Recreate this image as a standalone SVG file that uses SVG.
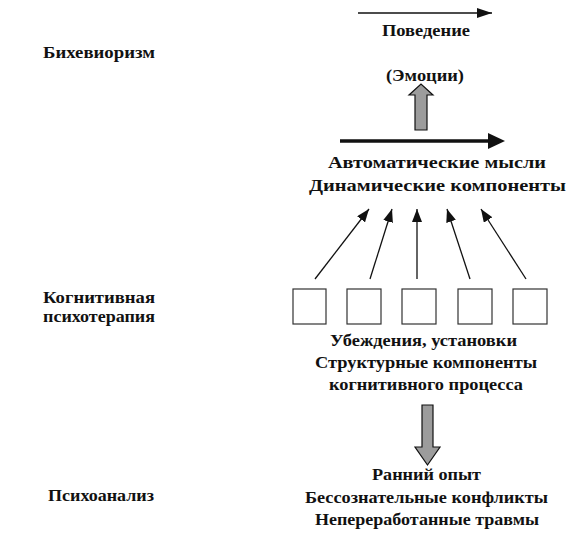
<svg xmlns="http://www.w3.org/2000/svg" width="579" height="548" viewBox="0 0 579 548">
  <style>
    .t { font-family: "Liberation Serif", "Times New Roman", serif; font-weight: bold; font-size: 16.5px; fill: #111; }
    .c { text-anchor: middle; }
    .box { fill: #fff; stroke: #333; stroke-width: 1.2; }
    .thin { stroke: #111; stroke-width: 1.3; fill: none; }
    .gray { fill: #9c9c9c; stroke: #111; stroke-width: 1.2; }
  </style>
  <defs>
    <marker id="head" markerUnits="userSpaceOnUse" markerWidth="13" markerHeight="10" refX="13" refY="5" orient="auto">
      <path d="M0,0 L13,5 L0,10 z" fill="#111"/>
    </marker>
    <marker id="headTop" markerUnits="userSpaceOnUse" markerWidth="15" markerHeight="10" refX="15" refY="5" orient="auto">
      <path d="M0,0 L15,5 L0,10 z" fill="#111"/>
    </marker>
  </defs>
  <rect width="579" height="548" fill="#fff"/>

  <g id="labels-left">
    <text class="t c" x="99" y="58" textLength="112" lengthAdjust="spacingAndGlyphs">Бихевиоризм</text>
    <text class="t c" x="99" y="303" textLength="112" lengthAdjust="spacingAndGlyphs">Когнитивная</text>
    <text class="t c" x="99" y="322" textLength="112" lengthAdjust="spacingAndGlyphs">психотерапия</text>
    <text class="t c" x="101" y="501" textLength="106" lengthAdjust="spacingAndGlyphs">Психоанализ</text>
  </g>

  <g id="behavior">
    <text class="t c" x="426" y="36" textLength="88" lengthAdjust="spacingAndGlyphs">Поведение</text>
  </g>
  <g id="emotions">
    <text class="t c" x="425" y="81" textLength="78" lengthAdjust="spacingAndGlyphs">(Эмоции)</text>
  </g>
  <g id="automatic">
    <text class="t c" x="437" y="168" textLength="218" lengthAdjust="spacingAndGlyphs">Автоматические мысли</text>
    <text class="t c" x="437.5" y="191" textLength="257" lengthAdjust="spacingAndGlyphs">Динамические компоненты</text>
  </g>

  <g id="box1"><rect class="box" x="293" y="289" width="33" height="35"/></g>
  <g id="box2"><rect class="box" x="347" y="289" width="34" height="35"/></g>
  <g id="box3"><rect class="box" x="402" y="289" width="34" height="35"/></g>
  <g id="box4"><rect class="box" x="458" y="289" width="34" height="35"/></g>
  <g id="box5"><rect class="box" x="513" y="289" width="34" height="35"/></g>

  <g id="beliefs">
    <text class="t c" x="423.5" y="346" textLength="187" lengthAdjust="spacingAndGlyphs">Убеждения, установки</text>
    <text class="t c" x="426" y="368" textLength="222" lengthAdjust="spacingAndGlyphs">Структурные компоненты</text>
    <text class="t c" x="426" y="390" textLength="194" lengthAdjust="spacingAndGlyphs">когнитивного процесса</text>
  </g>

  <g id="early">
    <text class="t c" x="426.5" y="480" textLength="109" lengthAdjust="spacingAndGlyphs">Ранний опыт</text>
    <text class="t c" x="426.5" y="503" textLength="243" lengthAdjust="spacingAndGlyphs">Бессознательные конфликты</text>
    <text class="t c" x="427" y="525" textLength="224" lengthAdjust="spacingAndGlyphs">Непереработанные травмы</text>
  </g>

  <g id="connectors">
    <line class="thin" x1="358" y1="13" x2="492" y2="13" marker-end="url(#headTop)"/>
    <line x1="340" y1="141" x2="490" y2="141" stroke="#111" stroke-width="3.5"/>
    <polygon points="488,133 505,141 488,149" fill="#111"/>
    <path class="gray" d="M415,130 L415,95 L409,95 L421,84 L433,95 L427,95 L427,130 Z"/>
    <path class="gray" d="M422,405 L433,405 L433,447 L440,447 L427.5,465 L415,447 L422,447 Z"/>
    <line class="thin" x1="315" y1="279" x2="369" y2="209" marker-end="url(#head)"/>
    <line class="thin" x1="370" y1="279" x2="392" y2="209" marker-end="url(#head)"/>
    <line class="thin" x1="417" y1="279" x2="417" y2="209" marker-end="url(#head)"/>
    <line class="thin" x1="470" y1="279" x2="447" y2="209" marker-end="url(#head)"/>
    <line class="thin" x1="526" y1="279" x2="481" y2="209" marker-end="url(#head)"/>
  </g>
</svg>
